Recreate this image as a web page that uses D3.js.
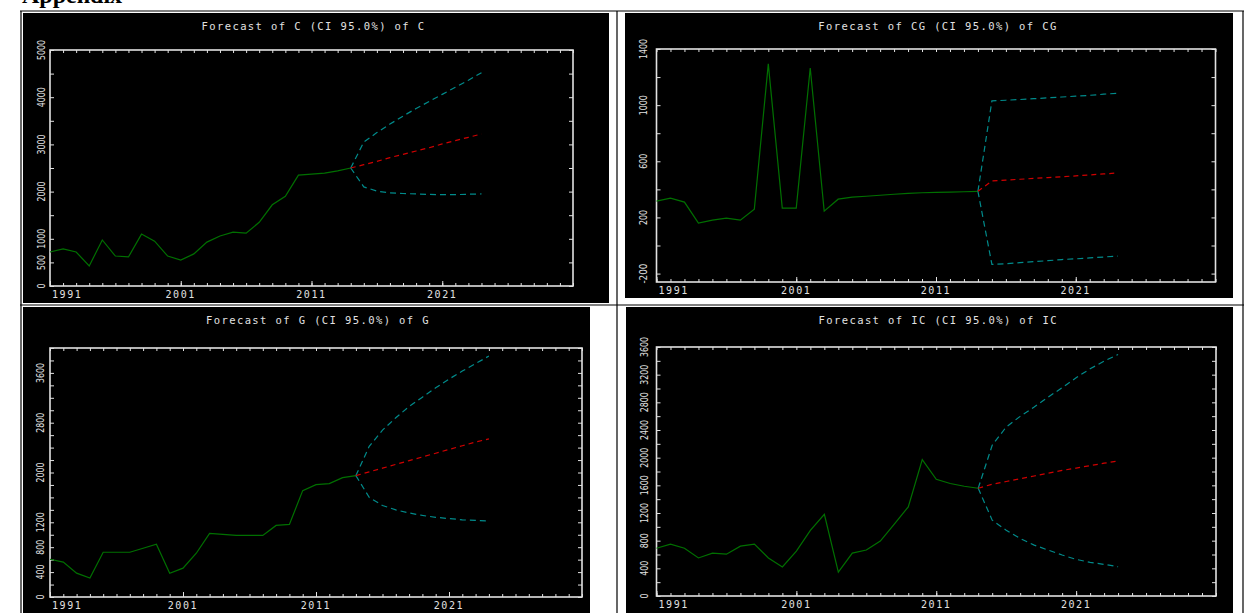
<!DOCTYPE html>
<html>
<head>
<meta charset="utf-8">
<script src="https://cdn.jsdelivr.net/npm/d3@7"></script>
<style>
  html, body { margin: 0; padding: 0; background: #fff; }
  svg { display: block; }
</style>
</head>
<body>
<svg id="page" width="1246" height="613"></svg>
<script>
// observed years and forecast years (forecast starts at last observation)
const histYears = [1991, 1992, 1993, 1994, 1995, 1996, 1997, 1998, 1999, 2000, 2001, 2002,
                   2003, 2004, 2005, 2006, 2007, 2008, 2009, 2010, 2011, 2012, 2013, 2014];
const fcYears = [2014, 2015, 2016, 2017, 2018, 2019, 2020, 2021, 2022, 2023, 2024];
const xLabelYears = [1991, 2001, 2011, 2021];

// C
const cHist = [720, 785, 720, 425, 975, 635, 615, 1100, 950, 635, 550, 680,
               930, 1060, 1140, 1120, 1350, 1720, 1900, 2350, 2370, 2390, 2440, 2500];
const cFc = [2500, 2570, 2640, 2720, 2790, 2860, 2930, 3010, 3080, 3150, 3220];
const cLo = [2500, 2100, 2010, 1975, 1960, 1950, 1940, 1935, 1935, 1945, 1950];
const cHi = [2500, 3050, 3250, 3430, 3600, 3760, 3910, 4060, 4210, 4360, 4520];
const cTicks = [0, 500, 1000, 2000, 3000, 4000, 5000];

// CG
const cgHist = [316, 337, 309, 160, 181, 195, 181, 259, 1294, 266, 266, 1265,
                245, 330, 344, 351, 358, 365, 372, 376, 379, 380, 383, 386];
const cgFc = [386, 460, 466, 472, 478, 484, 490, 496, 503, 510, 517];
const cgLo = [386, -135, -130, -122, -115, -108, -100, -95, -88, -82, -75];
const cgHi = [386, 1030, 1035, 1040, 1046, 1052, 1058, 1064, 1070, 1078, 1085];
const cgTicks = [-200, 200, 600, 1000, 1400];

// G
const gHist = [607, 560, 383, 304, 719, 719, 719, 783, 847, 380, 463, 703,
               1022, 1006, 990, 990, 990, 1150, 1166, 1709, 1805, 1821, 1917, 1950];
const gFc = [1950, 2010, 2070, 2130, 2190, 2250, 2310, 2370, 2430, 2490, 2540];
const gLo = [1950, 1600, 1470, 1400, 1350, 1310, 1280, 1260, 1240, 1230, 1220];
const gHi = [1950, 2420, 2680, 2880, 3060, 3210, 3360, 3500, 3630, 3750, 3870];
const gTicks = [0, 400, 800, 1200, 2000, 2800, 3600];

// IC
const icHist = [690, 750, 690, 550, 620, 605, 720, 750, 550, 420, 650, 950,
                1180, 346, 620, 665, 795, 1040, 1289, 1973, 1688, 1626, 1587, 1558];
const icFc = [1558, 1616, 1655, 1695, 1735, 1775, 1815, 1850, 1885, 1920, 1952];
const icLo = [1558, 1097, 952, 832, 736, 664, 592, 530, 486, 457, 423];
const icHi = [1558, 2180, 2443, 2597, 2732, 2876, 3011, 3156, 3285, 3395, 3492];
const icTicks = [0, 400, 800, 1200, 1600, 2000, 2400, 2800, 3200, 3600];

const panels = [
  { name: 'C', hist: cHist, fc: cFc, lo: cLo, hi: cHi, ticks: cTicks, yDomain: [0, 5000], yStep: 500,
    bg: [23, 13, 609, 303], frame: [50, 50, 573, 286], labelDx: 9 },
  { name: 'CG', hist: cgHist, fc: cgFc, lo: cgLo, hi: cgHi, ticks: cgTicks, yDomain: [-260, 1400], yStep: 200,
    bg: [625, 13, 1233, 298], frame: [656.5, 49, 1215.5, 282], labelDx: 13 },
  { name: 'G', hist: gHist, fc: gFc, lo: gLo, hi: gHi, ticks: gTicks, yDomain: [0, 4000], yStep: 200,
    bg: [23, 307, 590, 613], frame: [50, 348, 582, 597], labelDx: 10 },
  { name: 'IC', hist: icHist, fc: icFc, lo: icLo, hi: icHi, ticks: icTicks, yDomain: [0, 3600], yStep: 200,
    bg: [626, 307, 1233, 613], frame: [656.5, 347, 1216, 596], labelDx: 12 }
];

const svg = d3.select('#page');
const FG = '#e2e2e2';
const monoFont = '"DejaVu Sans Mono", monospace';

// page heading (cut off at the top of the picture)
svg.append('text')
  .attr('x', 22).attr('y', 3)
  .attr('font-family', '"Liberation Serif", serif')
  .attr('font-weight', 'bold')
  .attr('font-size', 24)
  .attr('fill', '#000')
  .text('Appendix');

// table rules
const rules = [[20, 11, 1244, 11], [21, 11, 21, 613], [617, 11, 617, 613], [1243, 11, 1243, 613], [20, 305, 1244, 305]];
svg.selectAll('line.rule')
  .data(rules)
  .join('line')
  .attr('class', 'rule')
  .attr('x1', d => d[0]).attr('y1', d => d[1])
  .attr('x2', d => d[2]).attr('y2', d => d[3])
  .attr('stroke', '#000')
  .attr('stroke-width', 1.2);

panels.forEach(p => drawPanel(p));

function drawPanel(p) {
  const [bx0, by0, bx1, by1] = p.bg;
  const [fx0, fy0, fx1, fy1] = p.frame;
  const g = svg.append('g');

  g.append('rect')
    .attr('x', bx0).attr('y', by0)
    .attr('width', bx1 - bx0).attr('height', by1 - by0)
    .attr('fill', '#000');

  const x = d3.scaleLinear().domain([1991, 2031]).range([fx0, fx1]);
  const y = d3.scaleLinear().domain(p.yDomain).range([fy1, fy0]);

  // title
  g.append('text')
    .attr('x', (fx0 + fx1) / 2 + 2)
    .attr('y', by0 + 17)
    .attr('text-anchor', 'middle')
    .attr('font-family', monoFont)
    .attr('font-size', 10.5)
    .attr('letter-spacing', 1.4)
    .attr('fill', FG)
    .text(`Forecast of ${p.name} (CI 95.0%) of ${p.name}`);

  // frame ticks on all four sides, pointing inward
  const yearTicks = d3.range(1991, 2032);
  const yMinor = d3.range(Math.ceil(p.yDomain[0] / p.yStep) * p.yStep, p.yDomain[1] + 1, p.yStep);
  const tickStyle = sel => {
    sel.select('.domain').remove();
    sel.selectAll('line').attr('stroke', FG).attr('stroke-width', 1);
  };
  g.append('g').attr('transform', `translate(0,${fy1})`)
    .call(d3.axisBottom(x).tickValues(yearTicks).tickSize(-3).tickFormat(''))
    .call(tickStyle);
  g.append('g').attr('transform', `translate(0,${fy1})`)
    .call(d3.axisBottom(x).tickValues(xLabelYears).tickSize(-5).tickFormat(''))
    .call(tickStyle);
  g.append('g').attr('transform', `translate(0,${fy0})`)
    .call(d3.axisTop(x).tickValues(yearTicks).tickSize(-3).tickFormat(''))
    .call(tickStyle);
  g.append('g').attr('transform', `translate(${fx0},0)`)
    .call(d3.axisLeft(y).tickValues(yMinor).tickSize(-4).tickFormat(''))
    .call(tickStyle);
  g.append('g').attr('transform', `translate(${fx1},0)`)
    .call(d3.axisRight(y).tickValues(yMinor).tickSize(-4).tickFormat(''))
    .call(tickStyle);

  g.append('rect')
    .attr('x', fx0).attr('y', fy0)
    .attr('width', fx1 - fx0).attr('height', fy1 - fy0)
    .attr('fill', 'none')
    .attr('stroke', FG)
    .attr('stroke-width', 1.6);

  // y tick labels, rotated
  g.selectAll('text.ylab')
    .data(p.ticks)
    .join('text')
    .attr('class', 'ylab')
    .attr('transform', d => `translate(${fx0 - p.labelDx},${y(d)}) rotate(-90)`)
    .attr('text-anchor', 'middle')
    .attr('dy', '0.36em')
    .attr('font-family', '"DejaVu Sans", sans-serif')
    .attr('font-size', 11)
    .attr('textLength', d => String(d).length * 5)
    .attr('lengthAdjust', 'spacingAndGlyphs')
    .attr('fill', FG)
    .text(d => d);

  // x tick labels
  g.selectAll('text.xlab')
    .data(xLabelYears)
    .join('text')
    .attr('class', 'xlab')
    .attr('x', (d, i) => i === 0 ? x(d) + 2 : x(d))
    .attr('y', fy1 + 12)
    .attr('text-anchor', (d, i) => i === 0 ? 'start' : 'middle')
    .attr('font-family', monoFont)
    .attr('font-size', 10)
    .attr('letter-spacing', 1.6)
    .attr('fill', FG)
    .text(d => d);

  const line = d3.line().x(d => x(d[0])).y(d => y(d[1]));
  const series = [
    { pts: d3.zip(histYears, p.hist), color: '#007000', dash: null },
    { pts: d3.zip(fcYears, p.hi), color: '#008b8b', dash: '6,4' },
    { pts: d3.zip(fcYears, p.lo), color: '#008b8b', dash: '6,4' },
    { pts: d3.zip(fcYears, p.fc), color: '#d00000', dash: '5,4' }
  ];
  g.selectAll('path.series')
    .data(series)
    .join('path')
    .attr('class', 'series')
    .attr('d', d => line(d.pts))
    .attr('fill', 'none')
    .attr('stroke', d => d.color)
    .attr('stroke-width', 1.2)
    .attr('stroke-dasharray', d => d.dash);
}
</script>
</body>
</html>
